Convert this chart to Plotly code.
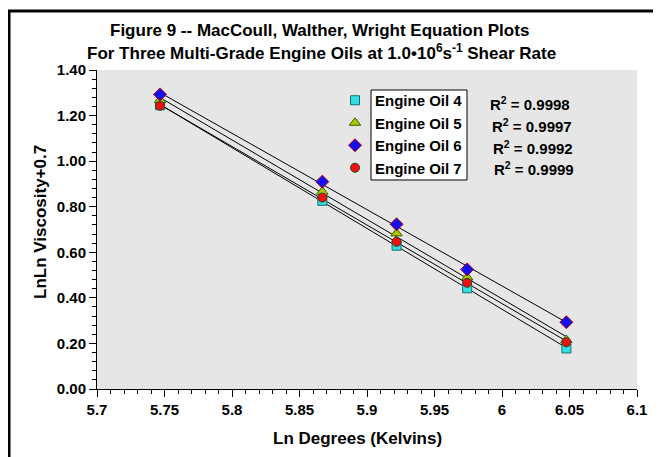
import numpy as np
import plotly.graph_objects as go

# Data
ln_kelvin = [5.7467, 5.8669, 5.9219, 5.9742, 6.0477]
oil4 = [1.245, 0.826, 0.629, 0.442, 0.178]
oil5 = [1.268, 0.866, 0.683, 0.490, 0.215]
oil6 = [1.293, 0.910, 0.723, 0.525, 0.293]
oil7 = [1.243, 0.840, 0.646, 0.466, 0.205]
series_names = ["Engine Oil 4", "Engine Oil 5", "Engine Oil 6", "Engine Oil 7"]
r2_labels = ["0.9998", "0.9997", "0.9992", "0.9999"]
x_tick_vals = [5.7, 5.75, 5.8, 5.85, 5.9, 5.95, 6.0, 6.05, 6.1]
x_tick_text = ["5.7", "5.75", "5.8", "5.85", "5.9", "5.95", "6", "6.05", "6.1"]

FONT = "Liberation Sans, Arial, sans-serif"

def bfont(size):
    return dict(family=FONT, size=size, color="black", weight="bold")

styles = [
    dict(symbol="square", color="#33E0E0", line=dict(color="#107070", width=1), size=9),
    dict(symbol="triangle-up", color="#A8C800", line=dict(color="#3C6000", width=1), size=10),
    dict(symbol="diamond", color="#1010F0", line=dict(color="#C00000", width=1), size=10),
    dict(symbol="circle", color="#F01010", line=dict(color="#304020", width=1), size=9),
]

fig = go.Figure()
all_series = [oil4, oil5, oil6, oil7]
xs = np.array(ln_kelvin)
# trend lines (least-squares fits of each series)
for ys in all_series:
    m, b = np.polyfit(xs, np.array(ys), 1)
    xl = np.array([xs.min(), xs.max()])
    fig.add_trace(go.Scatter(x=xl, y=m * xl + b, mode="lines",
                             line=dict(color="black", width=1), showlegend=False,
                             hoverinfo="skip"))
for name, ys, st in zip(series_names, all_series, styles):
    fig.add_trace(go.Scatter(x=ln_kelvin, y=ys, mode="markers", name=name,
                             marker=st, cliponaxis=False))

# The page body adds an 8px offset; build the figure 8px smaller and shift.
OFF = 8
W, H = 661 - OFF, 457 - OFF
L, R, T, B = 97 - OFF, 24, 70 - OFF, 68
pw = W - L - R
ph = H - T - B

def px(p):  # reference-screen x pixel -> paper
    return (p - OFF - L) / pw

def py(p):  # reference-screen y pixel -> paper
    return (H - B - (p - OFF)) / ph

annotations = [
    dict(text="Figure 9 -- MacCoull, Walther, Wright Equation Plots",
         xref="paper", yref="paper", x=px(319), y=py(30),
         xanchor="center", yanchor="middle", showarrow=False, font=bfont(17)),
    dict(text="For Three Multi-Grade Engine Oils at 1.0\u202210<sup>6</sup>s<sup>-1</sup> Shear Rate",
         xref="paper", yref="paper", x=px(321), y=py(52),
         xanchor="center", yanchor="middle", showarrow=False, font=bfont(17)),
    dict(text="Ln Degrees (Kelvins)", xref="paper", yref="paper", x=px(357), y=py(438),
         xanchor="center", yanchor="middle", showarrow=False, font=bfont(17)),
    dict(text="LnLn Viscosity+0.7", xref="paper", yref="paper", x=px(40), y=py(222),
         xanchor="center", yanchor="middle", showarrow=False, textangle=-90, font=bfont(17)),
]
r2_rows = [103, 125, 147, 168]
r2_x = [488, 489.5, 490.5, 492]
for r, yy, xx in zip(r2_labels, r2_rows, r2_x):
    annotations.append(dict(
        text="R<sup>2</sup> = %s" % r, xref="paper", yref="paper",
        x=px(xx), y=py(yy), xanchor="left", yanchor="middle", showarrow=False,
        font=bfont(15)))

shapes = [
    dict(type="rect", xref="paper", yref="paper", x0=px(371), x1=px(467),
         y0=py(180), y1=py(90), fillcolor="white", line=dict(color="black", width=1),
         layer="above"),
    dict(type="line", xref="paper", yref="paper", x0=px(9), x1=px(9),
         y0=py(10), y1=py(470), line=dict(color="black", width=3)),
    dict(type="line", xref="paper", yref="paper", x0=px(8), x1=px(680),
         y0=py(11), y1=py(11), line=dict(color="black", width=3)),
]

axis_common = dict(showgrid=False, zeroline=False, showline=True, linecolor="black",
                   linewidth=1, ticks="outside", ticklen=7, tickcolor="black",
                   tickfont=bfont(15))

fig.update_layout(
    width=W, height=H,
    margin=dict(l=L, r=R, t=T, b=B),
    paper_bgcolor="white",
    plot_bgcolor="#e6e6e6",
    font=dict(family=FONT, size=13, color="black"),
    annotations=annotations,
    shapes=shapes,
    showlegend=True,
    legend=dict(x=px(335), y=py(84), xanchor="left", yanchor="top",
                borderwidth=0, bgcolor="rgba(0,0,0,0)",
                font=bfont(15), itemwidth=30, tracegroupgap=0),
    xaxis=dict(range=[5.7, 6.1], tickvals=x_tick_vals, ticktext=x_tick_text,
               minor=dict(dtick=0.01, tick0=5.7, ticks="outside", ticklen=4, tickcolor="black"),
               **axis_common),
    yaxis=dict(range=[0, 1.4], dtick=0.2, tickformat=".2f",
               minor=dict(dtick=0.04, tick0=0, ticks="outside", ticklen=4, tickcolor="black"),
               **axis_common),
)

fig.write_html("out.html")
